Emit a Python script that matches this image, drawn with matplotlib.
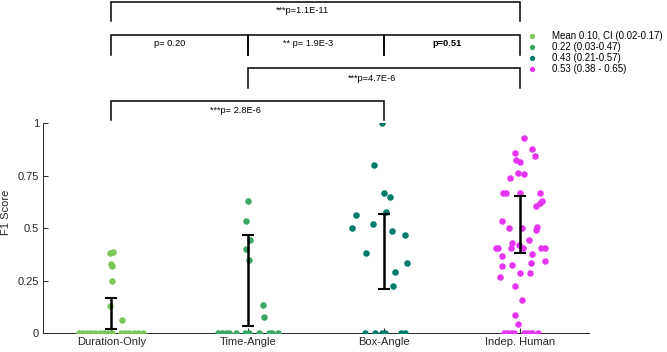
import matplotlib.pyplot as plt
from matplotlib.lines import Line2D

plt.rcParams['font.family'] = ['Liberation Sans', 'DejaVu Sans']

categories = ["Duration-Only", "Time-Angle", "Box-Angle", "Indep. Human"]
colors = ["#7cc65c", "#3ca664", "#007b69", "#e535f2"]
legend_labels = ["Mean 0.10, CI (0.02-0.17)", "0.22 (0.03-0.47)",
                 "0.43 (0.21-0.57)", "0.53 (0.38 - 0.65)"]

# F1 scores, with the horizontal jitter of each dot
duration_only = [0.381, 0.386, 0.329, 0.319, 0.249, 0.130, 0.062,
                 0, 0, 0, 0, 0, 0, 0, 0, 0, 0, 0, 0, 0, 0, 0]
duration_jit = [-0.007, 0.012, -0.002, 0.007, 0.005, -0.010, 0.076,
                -0.239, -0.210, -0.180, -0.149, -0.117, -0.085, -0.056, -0.026, 0.005,
                0.071, 0.100, 0.132, 0.164, 0.194, 0.230]

time_angle = [0.632, 0.535, 0.446, 0.401, 0.348, 0.133, 0.080,
              0, 0, 0, 0, 0, 0, 0, 0, 0, 0, 0]
time_jit = [0.004, -0.010, 0.017, -0.012, 0.010, 0.110, 0.122,
            -0.220, -0.188, -0.159, -0.135, -0.086, -0.018, 0.012, 0.085, 0.154, 0.178, 0.220]

box_angle = [1.0, 0.803, 0.670, 0.651, 0.576, 0.563, 0.520, 0.501, 0.487, 0.469,
             0.383, 0.335, 0.294, 0.223, 0, 0, 0, 0, 0, 0]
box_jit = [-0.015, -0.071, 0.002, 0.046, 0.017, -0.205, -0.081, -0.232, 0.061, 0.156,
           -0.130, 0.166, 0.081, 0.068, -0.142, -0.066, -0.015, 0.004, 0.127, 0.156]

indep_human = [0.929, 0.878, 0.860, 0.844, 0.825, 0.816, 0.765, 0.760, 0.740,
               0.670, 0.670, 0.670, 0.670, 0.630, 0.620, 0.605,
               0.537, 0.503, 0.503, 0.505, 0.492,
               0.404, 0.404, 0.429, 0.405, 0.420, 0.405, 0.444, 0.404, 0.404,
               0.368, 0.378, 0.320, 0.326, 0.336, 0.344, 0.270, 0.289, 0.289,
               0.225, 0.157, 0.087, 0.043,
               0, 0, 0, 0, 0, 0, 0, 0, 0]
human_jit = [0.026, 0.083, -0.042, 0.105, -0.031, -0.001, -0.016, 0.026, -0.080,
             -0.125, -0.108, 0.0, 0.141, 0.161, 0.141, 0.112,
             -0.139, -0.084, 0.008, 0.122, 0.117,
             -0.181, -0.163, -0.059, -0.073, -0.010, 0.021, 0.065, 0.150, 0.177,
             -0.133, 0.088, -0.137, -0.059, 0.078, 0.180, -0.150, -0.001, 0.068,
             -0.037, 0.010, -0.038, -0.018,
             -0.122, -0.098, -0.071, -0.045, 0.026, 0.051, 0.078, 0.088, 0.129]

# confidence intervals (error bars)
ci_low = [0.02, 0.035, 0.213, 0.381]
ci_high = [0.17, 0.468, 0.570, 0.654]

# significance brackets: (start, end, label)
brackets = [
    (1, 4, "***p=1.1E-11"),
    (1, 2, "p= 0.20"),
    (2, 3, "** p= 1.9E-3"),
    (3, 4, "p=0.51"),
    (2, 4, "***p=4.7E-6"),
    (1, 3, "***p= 2.8E-6"),
]

groups = [duration_only, time_angle, box_angle, indep_human]
jitters = [duration_jit, time_jit, box_jit, human_jit]

fig = plt.figure(figsize=(6.67, 3.52), dpi=100)
ax = fig.add_axes([0.0646, 0.0531, 0.818, 0.5966])

for i, (vals, jit) in enumerate(zip(groups, jitters)):
    xs = [i + 1 + j for j in jit]
    ax.scatter(xs, vals, s=22, color=colors[i], linewidths=0, zorder=3)

# error bars for the CI
pos = [1, 2, 3, 4]
mid = [(lo + hi) / 2 for lo, hi in zip(ci_low, ci_high)]
err = [[m - lo for m, lo in zip(mid, ci_low)], [hi - m for m, hi in zip(mid, ci_high)]]
ax.errorbar(pos, mid, yerr=err, fmt='none', ecolor='black', elinewidth=1.8,
            capsize=4.5, capthick=1.5, zorder=4)

ax.set_xlim(0.5, 4.5)
ax.set_ylim(0, 1)
ax.set_xticks(pos)
ax.set_xticklabels(categories)
ax.set_yticks([0, 0.25, 0.5, 0.75, 1])
ax.set_yticklabels(["0", "0.25", "0.5", "0.75", "1"])
ax.tick_params(direction='in', length=3.5, width=0.7, labelsize=8,
               colors='#262626', pad=3)
ax.spines['top'].set_visible(False)
ax.spines['right'].set_visible(False)
for s in ['left', 'bottom']:
    ax.spines[s].set_color('#262626')
    ax.spines[s].set_linewidth(0.7)
ax.set_ylabel("F1 Score", fontsize=8, color='#262626')
ax.yaxis.set_label_coords(-0.058, 0.574)

# bracket geometry (line height, leg bottom, text height) per row
rows = [(1.580, 1.487, 1.535), (1.421, 1.325, 1.378), (1.421, 1.325, 1.378),
        (1.421, 1.325, 1.378), (1.261, 1.168, 1.211), (1.106, 1.014, 1.063)]
text_x = [2.403, 1.43, 2.446, 3.465, 2.911, 1.907]
for (x0, x1, label), (yl, yb, yt), tx in zip(brackets, rows, text_x):
    ax.plot([x0, x0, x1, x1], [yb, yl, yl, yb], color='black', lw=1.1,
            clip_on=False, solid_joinstyle='miter')
    weight = 'bold' if label == "p=0.51" else 'normal'
    ax.text(tx, yt, label, ha='center', va='center', fontsize=6.7,
            fontweight=weight, clip_on=False)

# legend
handles = [Line2D([], [], marker='o', linestyle='none', markersize=3.8,
                  markerfacecolor=c, markeredgecolor='none') for c in colors]
fig.legend(handles, legend_labels, loc='upper left', bbox_to_anchor=(0.790, 0.912),
           frameon=False, fontsize=7, handlelength=1.0, handletextpad=1.55,
           labelspacing=0.12, borderpad=0, borderaxespad=0)

plt.savefig("out.png", dpi=100)
